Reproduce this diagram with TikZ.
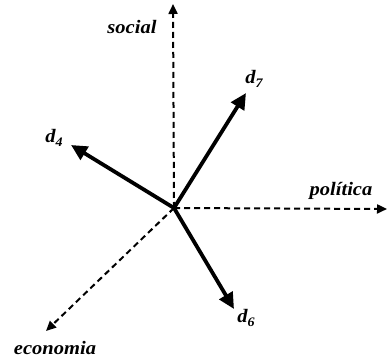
\documentclass[tikz,border=0pt]{standalone}
\usepackage{fontspec}
\setmainfont{Liberation Serif}
\newfontfamily\lblfont[FakeStretch=1.08]{Liberation Serif}
\usetikzlibrary{arrows.meta}
\tikzset{
  lbl/.style={font=\lblfont\fontsize{19}{22}\selectfont\bfseries\itshape, inner sep=0pt},
  axis/.style={line width=2pt, dash pattern=on 6pt off 4pt, -{Triangle[length=10pt,width=9pt]}},
  vec/.style={line width=3.8pt, -{Triangle[length=16pt,width=15pt]}}
}
\newcommand{\dsub}[1]{d\raisebox{-0.45ex}{\fontsize{13}{14}\selectfont #1}}
\begin{document}
\begin{tikzpicture}[x=1pt,y=1pt]
\useasboundingbox (0,0) rectangle (387,358);
\coordinate (O) at (174,150);
\coordinate (soc) at (173,354);
\coordinate (pol) at (387,149);
\coordinate (eco) at (46,27);
\coordinate (v4) at (71,213);
\coordinate (v7) at (246,265);
\coordinate (v6) at (234,49);
\draw[axis] (O) -- (soc);
\draw[axis] (O) -- (pol);
\draw[axis] (O) -- (eco);
\draw[vec] (O) -- (v4);
\draw[vec] (O) -- (v7);
\draw[vec] (O) -- (v6);
\node[lbl] (lsoc) at (132,331) {social};
\node[lbl] (lpol) at (341,167) {política};
\node[lbl] (leco) at (55,10) {economia};
\node[lbl] (l4) at (54,220) {\dsub{4}};
\node[lbl] (l7) at (254,279) {\dsub{7}};
\node[lbl] (l6) at (246,40) {\dsub{6}};
\end{tikzpicture}
\end{document}
